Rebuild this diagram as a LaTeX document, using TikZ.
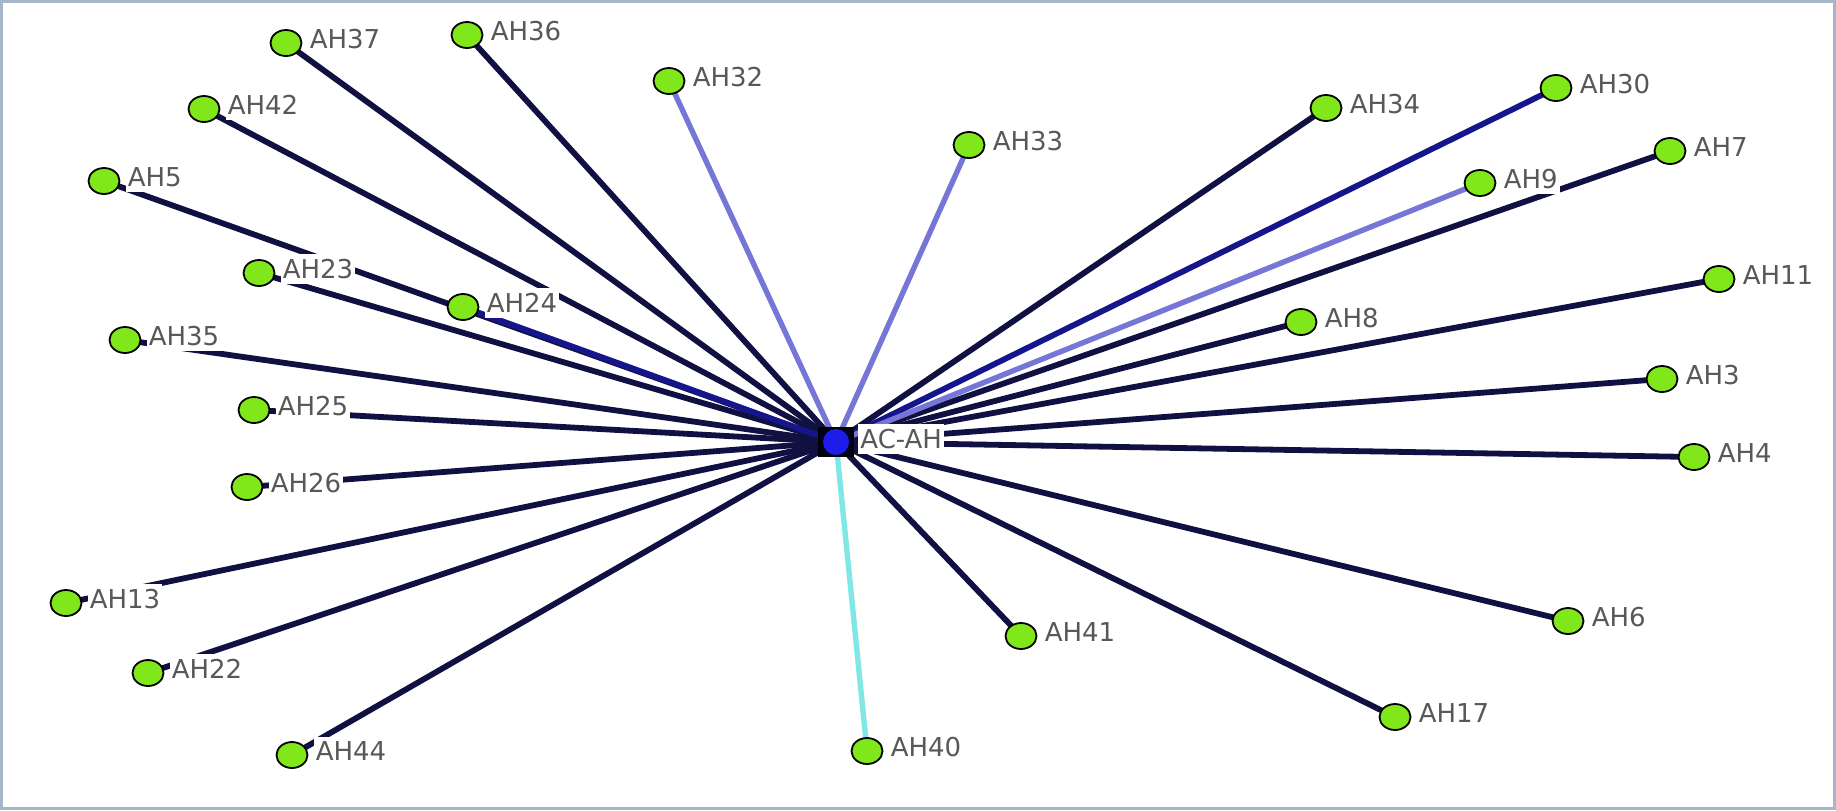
\documentclass[tikz,border=0pt]{standalone}
\usepackage{fontspec}
\newfontfamily\labelfont{DejaVu Sans}
\usetikzlibrary{positioning,shapes.geometric}

\definecolor{linkdark}{RGB}{16,16,66}
\definecolor{linkblue}{RGB}{22,22,140}
\definecolor{linklight}{RGB}{118,118,214}
\definecolor{linkcyan}{RGB}{128,230,230}
\definecolor{nodegreen}{RGB}{128,232,26}
\definecolor{hubblue}{RGB}{28,28,235}
\definecolor{labelgrey}{RGB}{88,88,88}
\definecolor{framegrey}{RGB}{166,182,202}

\tikzset{
  link/.style={line width=2.9pt, linkdark},
  linkb/.style={line width=2.9pt, linkblue},
  linkl/.style={line width=2.7pt, linklight},
  linkc/.style={line width=2.7pt, linkcyan},
  dot/.style={ellipse, draw=black, line width=0.9pt, fill=nodegreen,
    minimum width=15.5pt, minimum height=13pt, inner sep=0pt},
  lbl/.style={font=\labelfont\fontsize{13}{15}\selectfont, text=labelgrey,
    fill=white, inner xsep=1pt, inner ysep=2.5pt, yshift=2pt},
}

\begin{document}
\begin{tikzpicture}[x=0.5pt,y=-0.5pt]
    \useasboundingbox (0,0) rectangle (1836,810);
    \draw[framegrey, line width=1.2pt] (1.5,1.5) rectangle (1834.5,808.5);

    \coordinate (C) at (836,442);
    \coordinate (c37) at (286,43);
    \coordinate (c36) at (467,35);
    \coordinate (c32) at (669,81);
    \coordinate (c33) at (969,145);
    \coordinate (c42) at (204,109);
    \coordinate (c5) at (104,181);
    \coordinate (c23) at (259,273);
    \coordinate (c24) at (463,307);
    \coordinate (c35) at (125,340);
    \coordinate (c25) at (254,410);
    \coordinate (c26) at (247,487);
    \coordinate (c13) at (66,603);
    \coordinate (c22) at (148,673);
    \coordinate (c44) at (292,755);
    \coordinate (c40) at (867,751);
    \coordinate (c41) at (1021,636);
    \coordinate (c17) at (1395,717);
    \coordinate (c6) at (1568,621);
    \coordinate (c4) at (1694,457);
    \coordinate (c3) at (1662,379);
    \coordinate (c11) at (1719,279);
    \coordinate (c8) at (1301,322);
    \coordinate (c9) at (1480,183);
    \coordinate (c7) at (1670,151);
    \coordinate (c30) at (1556,88);
    \coordinate (c34) at (1326,108);

    % links to the hub
    \draw[link] (c37) -- (C);
    \draw[link] (c36) -- (C);
    \draw[link] (c42) -- (C);
    \draw[link] (c5) -- (C);
    \draw[link] (c23) -- (C);
    \draw[link] (c35) -- (C);
    \draw[link] (c25) -- (C);
    \draw[link] (c26) -- (C);
    \draw[link] (c13) -- (C);
    \draw[link] (c22) -- (C);
    \draw[link] (c44) -- (C);
    \draw[link] (c41) -- (C);
    \draw[link] (c17) -- (C);
    \draw[link] (c6) -- (C);
    \draw[link] (c4) -- (C);
    \draw[link] (c3) -- (C);
    \draw[link] (c11) -- (C);
    \draw[link] (c8) -- (C);
    \draw[link] (c7) -- (C);
    \draw[link] (c34) -- (C);
    \draw[linkb] (c24) -- (C);
    \draw[linkb] (c30) -- (C);
    \draw[linkl] (c32) -- (C);
    \draw[linkl] (c33) -- (C);
    \draw[linkl] (c9) -- (C);
    \draw[linkc] (c40) -- (C);

    % hub
    \node[rectangle, draw=black, line width=1pt, fill=black!90!blue,
      minimum width=17pt, minimum height=14pt, inner sep=0pt] (hub) at (C) {};
    \node[circle, fill=hubblue, minimum size=13pt, inner sep=0pt] (hubin) at (C) {};
    \node[lbl, right=2pt of hub, yshift=-0.5pt] (tC) {AC-AH};

    % green nodes
    \node[dot] (AH37) at (c37) {};
    \node[dot] (AH36) at (c36) {};
    \node[dot] (AH32) at (c32) {};
    \node[dot] (AH33) at (c33) {};
    \node[dot] (AH42) at (c42) {};
    \node[dot] (AH5) at (c5) {};
    \node[dot] (AH23) at (c23) {};
    \node[dot] (AH24) at (c24) {};
    \node[dot] (AH35) at (c35) {};
    \node[dot] (AH25) at (c25) {};
    \node[dot] (AH26) at (c26) {};
    \node[dot] (AH13) at (c13) {};
    \node[dot] (AH22) at (c22) {};
    \node[dot] (AH44) at (c44) {};
    \node[dot] (AH40) at (c40) {};
    \node[dot] (AH41) at (c41) {};
    \node[dot] (AH17) at (c17) {};
    \node[dot] (AH6) at (c6) {};
    \node[dot] (AH4) at (c4) {};
    \node[dot] (AH3) at (c3) {};
    \node[dot] (AH11) at (c11) {};
    \node[dot] (AH8) at (c8) {};
    \node[dot] (AH9) at (c9) {};
    \node[dot] (AH7) at (c7) {};
    \node[dot] (AH30) at (c30) {};
    \node[dot] (AH34) at (c34) {};

    % names
    \node[lbl, right=2.5pt of AH37] (t37) {AH37};
    \node[lbl, right=2.5pt of AH36] (t36) {AH36};
    \node[lbl, right=2.5pt of AH32] (t32) {AH32};
    \node[lbl, right=2.5pt of AH33] (t33) {AH33};
    \node[lbl, right=2.5pt of AH42] (t42) {AH42};
    \node[lbl, right=2.5pt of AH5] (t5) {AH5};
    \node[lbl, right=2.5pt of AH23] (t23) {AH23};
    \node[lbl, right=2.5pt of AH24] (t24) {AH24};
    \node[lbl, right=2.5pt of AH35] (t35) {AH35};
    \node[lbl, right=2.5pt of AH25] (t25) {AH25};
    \node[lbl, right=2.5pt of AH26] (t26) {AH26};
    \node[lbl, right=2.5pt of AH13] (t13) {AH13};
    \node[lbl, right=2.5pt of AH22] (t22) {AH22};
    \node[lbl, right=2.5pt of AH44] (t44) {AH44};
    \node[lbl, right=2.5pt of AH40] (t40) {AH40};
    \node[lbl, right=2.5pt of AH41] (t41) {AH41};
    \node[lbl, right=2.5pt of AH17] (t17) {AH17};
    \node[lbl, right=2.5pt of AH6] (t6) {AH6};
    \node[lbl, right=2.5pt of AH4] (t4) {AH4};
    \node[lbl, right=2.5pt of AH3] (t3) {AH3};
    \node[lbl, right=2.5pt of AH11] (t11) {AH11};
    \node[lbl, right=2.5pt of AH8] (t8) {AH8};
    \node[lbl, right=2.5pt of AH9] (t9) {AH9};
    \node[lbl, right=2.5pt of AH7] (t7) {AH7};
    \node[lbl, right=2.5pt of AH30] (t30) {AH30};
    \node[lbl, right=2.5pt of AH34] (t34) {AH34};
\end{tikzpicture}
\end{document}
